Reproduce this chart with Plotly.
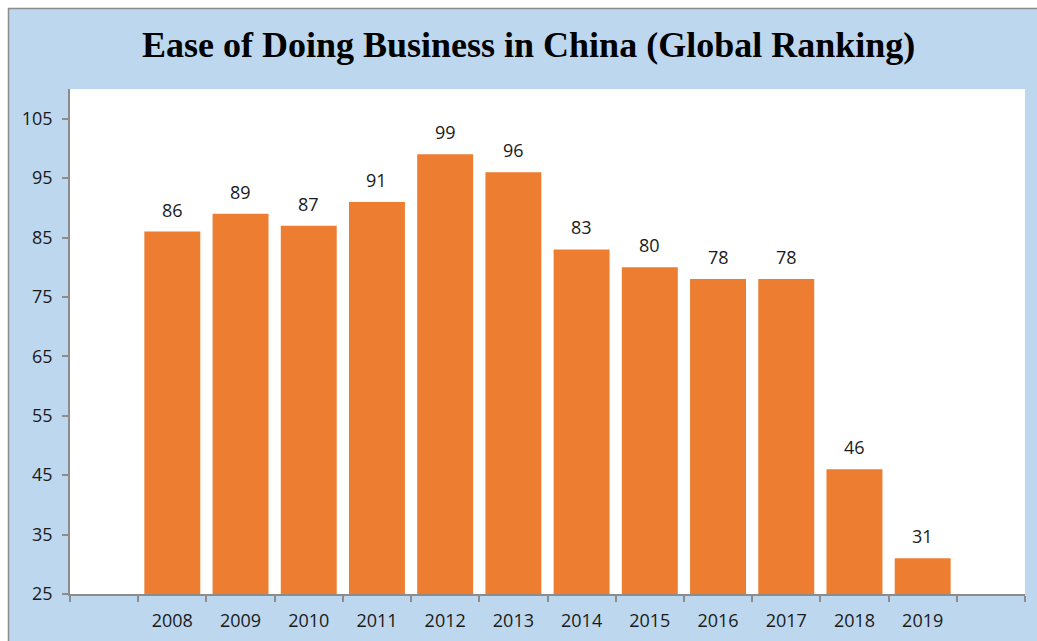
import plotly.graph_objects as go

years = ["2008", "2009", "2010", "2011", "2012", "2013", "2014", "2015", "2016", "2017", "2018", "2019"]
ranking = [86, 89, 87, 91, 99, 96, 83, 80, 78, 78, 46, 31]
y_ticks = [25, 35, 45, 55, 65, 75, 85, 95, 105]
title_text = "Ease of Doing Business in China (Global Ranking)"

W, H = 1037, 641
L, R, T, B = 70, 12, 89, 47
PW, PH = W - L - R, H - T - B

def px_x(p):
    return (p - L) / PW

def px_y(p):
    return (H - B - p) / PH

xpos = list(range(1, len(years) + 1))
bar_color = "#ED7D31"
axis_gray = "#8c8c8c"
bg_blue = "#BDD7EE"
text_col = "#1a1a1a"
lab_font = dict(family="Open Sans", size=18, color=text_col)

fig = go.Figure()
fig.add_trace(go.Bar(
    x=xpos, y=ranking, marker=dict(color=bar_color, line=dict(width=0)),
    width=0.82, hoverinfo="x+y",
))

for xv, v in zip(xpos, ranking):
    fig.add_annotation(x=xv, y=v, text=str(v), showarrow=False, yanchor="bottom",
                       yshift=8, font=lab_font)

fig.add_annotation(text=f"<b>{title_text}</b>", xref="paper", yref="paper",
                   x=px_x(528.5), y=px_y(45), xanchor="center", yanchor="middle",
                   showarrow=False,
                   font=dict(family="Liberation Serif", size=36, color="#000000"))

shapes = [
    dict(type="rect", xref="paper", yref="paper", x0=px_x(-5), x1=px_x(W + 5), y0=px_y(-5), y1=px_y(8),
         fillcolor="white", line=dict(width=0), layer="above"),
    dict(type="rect", xref="paper", yref="paper", x0=px_x(-5), x1=px_x(8), y0=px_y(H + 5), y1=px_y(-5),
         fillcolor="white", line=dict(width=0), layer="above"),
    dict(type="line", xref="paper", yref="paper", x0=px_x(8), x1=px_x(W + 5), y0=px_y(8.5), y1=px_y(8.5),
         line=dict(color=axis_gray, width=1.5)),
    dict(type="line", xref="paper", yref="paper", x0=px_x(8.5), x1=px_x(8.5), y0=px_y(8), y1=px_y(H + 5),
         line=dict(color=axis_gray, width=1.5)),
]

fig.update_layout(
    width=W, height=H,
    margin=dict(l=L, r=R, t=T, b=B, pad=0, autoexpand=False),
    paper_bgcolor=bg_blue, plot_bgcolor="white",
    showlegend=False, shapes=shapes,
    xaxis=dict(
        range=[-0.5, len(years) + 1.5], tickvals=xpos, ticktext=years,
        ticks="outside", ticklen=0, showgrid=False, zeroline=False,
        showline=True, linecolor=axis_gray, linewidth=1.5,
        tickfont=lab_font, automargin=False,
        ticklabelstandoff=10,
        minor=dict(tickvals=[i - 0.5 for i in range(len(years) + 3)], ticks="outside",
                   ticklen=6, tickcolor=axis_gray, tickwidth=1.5, showgrid=False),
        fixedrange=True,
    ),
    yaxis=dict(
        range=[25, 110], tickvals=y_ticks, ticks="outside", ticklen=6,
        tickcolor=axis_gray, tickwidth=1.5, showgrid=False, zeroline=False,
        showline=True, linecolor=axis_gray, linewidth=1.5,
        tickfont=lab_font, automargin=False,
        ticklabelstandoff=6, fixedrange=True,
    ),
)

fig.write_html("out.html")
